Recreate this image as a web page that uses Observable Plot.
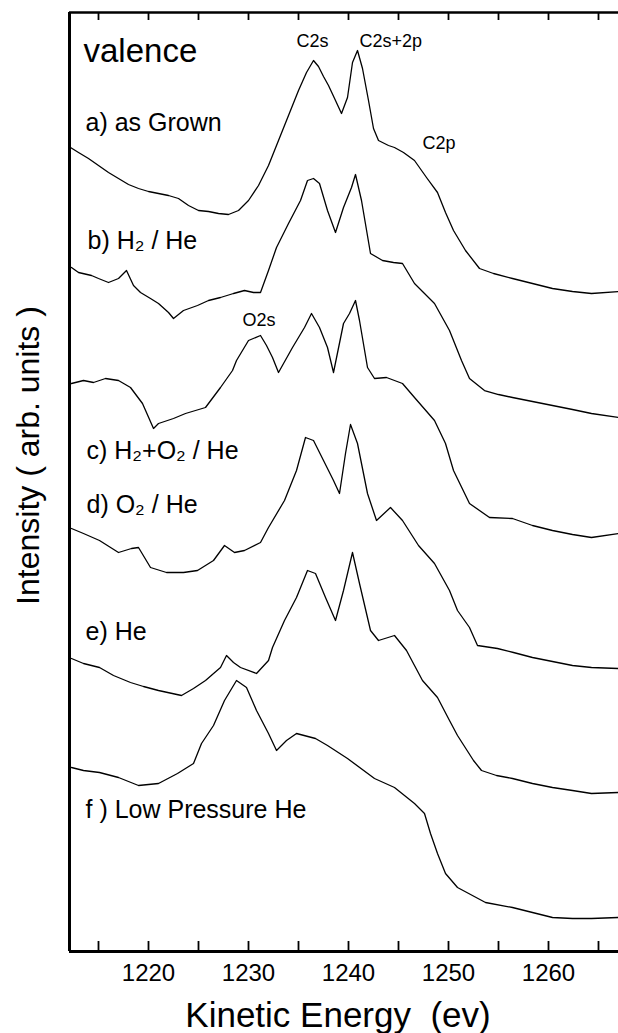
<!DOCTYPE html>
<html><head><meta charset="utf-8">
<script src="https://cdn.jsdelivr.net/npm/d3@7"></script>
<script src="https://cdn.jsdelivr.net/npm/@observablehq/plot@0.6"></script>
<style>html,body{margin:0;padding:0;background:#fff} svg{display:block}</style>
</head><body><div id="chart"></div>
<script>
// Kinetic energy (eV) vs intensity (arb. units)
const seriesA = [[1212.2,80.4],[1213,79.9],[1214,79.3],[1215,78.6],[1216,77.9],[1217,77.3],[1218,76.7],[1219,76.3],[1220,76.0],[1221,75.8],[1222,75.6],[1223,75.3],[1224,74.6],[1225,74.1],[1226,74.0],[1227,73.8],[1228,73.7],[1229,74.1],[1230,75.1],[1231,76.6],[1232,78.6],[1233,81.1],[1234,83.6],[1235,86.1],[1235.8,87.9],[1236.5,89.1],[1237,88.5],[1237.5,87.5],[1238,86.6],[1238.7,85.1],[1239.3,83.8],[1239.9,85.4],[1240.4,88.9],[1240.9,90.1],[1241.4,88.3],[1242,85.1],[1242.5,82.3],[1243,81.1],[1244,80.6],[1244.6,80.4],[1245.5,79.9],[1246.6,79.1],[1247.8,77.4],[1248.9,75.9],[1249.7,73.9],[1250.5,72.1],[1251.7,70.1],[1253.1,68.3],[1254.5,67.8],[1256.4,67.3],[1258.4,66.8],[1260.4,66.3],[1262.4,66.0],[1264.3,65.8],[1267,66.0]];
const seriesB = [[1212.3,68.4],[1213,67.9],[1214.3,67.6],[1215,67.3],[1216,66.9],[1217,67.3],[1217.8,68.1],[1218.5,66.6],[1219.2,65.9],[1220.2,65.3],[1221,64.8],[1222,63.9],[1222.5,63.3],[1223.5,64.1],[1224.9,64.6],[1226,65.1],[1227.2,65.4],[1228.5,65.8],[1229.6,66.1],[1230.5,65.9],[1231.2,65.9],[1232,68.1],[1232.8,70.4],[1234,72.8],[1235.2,75.1],[1235.9,77.1],[1236.5,77.3],[1237.1,76.8],[1237.9,74.1],[1238.7,71.9],[1239.5,74.4],[1240.3,76.4],[1240.7,77.7],[1241.3,75.1],[1242.2,69.8],[1243.4,69.1],[1244.5,68.9],[1245.4,68.8],[1246.6,66.8],[1247.6,65.8],[1248.6,64.8],[1250.1,62.1],[1251.3,59.1],[1252.1,57.3],[1253.6,56.1],[1255,55.7],[1256.4,55.4],[1258.4,55.0],[1260.4,54.6],[1262.4,54.2],[1264.3,53.8],[1267,53.4]];
const seriesC = [[1212.3,56.8],[1213.5,57.1],[1214.5,56.9],[1215.7,57.3],[1217,57.1],[1218.2,56.4],[1219.4,54.8],[1220.5,52.3],[1221,52.8],[1222.5,53.3],[1223.7,53.8],[1225.7,54.4],[1227.2,56.4],[1228.4,58.1],[1228.8,59.1],[1230,61.1],[1231.2,61.6],[1231.8,60.6],[1232.4,59.4],[1233,57.9],[1234.4,60.4],[1235.6,62.4],[1236.3,63.8],[1237.1,62.4],[1237.9,60.4],[1238.5,57.9],[1239.5,62.8],[1240.1,63.8],[1240.7,65.1],[1241.1,63.1],[1241.9,58.4],[1242.6,57.3],[1243.8,57.4],[1245.4,56.8],[1246.6,55.4],[1248.6,53.1],[1249.7,50.8],[1250.5,48.1],[1252.1,44.8],[1254.1,43.4],[1256.4,43.3],[1258.4,42.6],[1260.4,42.1],[1262.4,41.7],[1264.3,41.4],[1267,41.8]];
const seriesD = [[1212.3,42.3],[1213.5,41.8],[1215.1,41.1],[1217,39.9],[1218.3,40.3],[1219,40.4],[1220.2,38.4],[1221.8,37.9],[1223.5,37.9],[1224.9,38.1],[1226.5,39.1],[1227.6,40.6],[1228.6,39.9],[1229.6,40.1],[1231.2,40.9],[1232,42.4],[1233.6,45.1],[1234.8,48.1],[1235.7,51.4],[1236.5,51.1],[1237.5,49.1],[1238.5,47.1],[1239.1,45.8],[1239.7,49.8],[1240.2,52.7],[1240.9,50.8],[1241.9,45.8],[1242.8,43.1],[1244.2,44.4],[1245.4,43.1],[1247,40.6],[1248.6,38.8],[1250.1,36.1],[1250.9,34.1],[1252.1,32.4],[1252.9,30.6],[1254.9,30.3],[1256.5,29.9],[1258.4,29.4],[1260.4,29.0],[1262.4,28.6],[1264.3,28.4],[1267,28.3]];
const seriesE = [[1212.3,29.3],[1213.5,28.8],[1215.1,28.4],[1216.5,27.6],[1218.2,26.9],[1219.5,26.5],[1221,26.1],[1223.3,25.6],[1224.5,26.3],[1225.7,27.1],[1227.2,28.4],[1227.8,29.6],[1228.5,28.9],[1229.2,28.4],[1230.8,27.8],[1232,29.1],[1232.4,30.4],[1233.6,33.1],[1234.8,35.4],[1235.9,38.1],[1236.7,37.8],[1237.7,35.4],[1238.7,33.1],[1239.5,36.1],[1240.4,39.9],[1241.1,36.8],[1242.2,32.1],[1243,31.1],[1244.6,31.6],[1245.8,30.1],[1247.4,27.1],[1248.9,25.4],[1250.1,23.1],[1250.9,21.6],[1252.5,19.1],[1253.3,18.1],[1254.8,17.6],[1256.4,17.3],[1258.4,16.8],[1260.4,16.4],[1262.4,16.1],[1264.3,15.8],[1267,15.9]];
const seriesF = [[1212.3,18.4],[1213.5,18.1],[1215.1,17.9],[1217,17.4],[1219,16.6],[1221,16.8],[1222.9,17.8],[1224.5,18.8],[1225.3,20.8],[1226.5,22.6],[1227.6,25.1],[1228.8,27.1],[1229.8,26.4],[1230.8,24.1],[1232,21.8],[1232.8,20.1],[1233.8,21.1],[1234.8,21.8],[1236.7,21.3],[1237.9,20.6],[1239.9,19.3],[1242.6,17.3],[1244.6,16.4],[1246.6,14.8],[1247.6,13.8],[1248.2,11.8],[1248.9,9.8],[1249.7,7.8],[1250.9,6.4],[1253.7,4.9],[1256.4,4.4],[1258.4,3.9],[1260.4,3.4],[1262.4,3.3],[1264.3,3.3],[1267,3.4]];

const tickEnergies = [1215,1220,1225,1230,1235,1240,1245,1250,1255,1260,1265];
const tickLabels = [1220,1230,1240,1250,1260];

const spectrumLabels = [
  {text:"a) as Grown", energy:1213.7, intensity:82.1},
  {text:"b) H\u2082 / He", energy:1213.9, intensity:70.3},
  {text:"c) H\u2082+O\u2082 / He", energy:1213.8, intensity:49.3},
  {text:"d) O\u2082 / He", energy:1213.8, intensity:43.9},
  {text:"e) He", energy:1213.7, intensity:31.2},
  {text:"f ) Low Pressure He", energy:1213.7, intensity:13.4}
];
const peakLabels = [
  {text:"C2s", energy:1234.8, intensity:90.5},
  {text:"C2s+2p", energy:1241.1, intensity:90.5},
  {text:"C2p", energy:1247.4, intensity:80.3},
  {text:"O2s", energy:1229.4, intensity:62.6}
];
const panelTitle = [{text:"valence", energy:1213.5, intensity:89.0}];

const xDomain = [1212.1, 1267];
const yDomain = [0, 93.9];

const rows = [];
[["a",seriesA],["b",seriesB],["c",seriesC],["d",seriesD],["e",seriesE],["f",seriesF]]
  .forEach(([s, arr]) => arr.forEach(([e, i]) => rows.push({series:s, energy:e, intensity:i})));

const W = 618, H = 1033, mL = 69, mT = 12, mB = 82, mR = 0;
const innerH = H - mT - mB;
const font = '"Liberation Sans", Arial, Helvetica, sans-serif';

const chart = Plot.plot({
  width: W, height: H,
  marginLeft: mL, marginRight: mR, marginTop: mT, marginBottom: mB,
  style: {fontFamily: font, background: "white", color: "black"},
  x: {domain: xDomain, axis: null},
  y: {domain: yDomain, axis: null},
  marks: [
    Plot.line(rows, {x: "energy", y: "intensity", z: "series", stroke: "black", strokeWidth: 1.3}),
    Plot.tickX(tickEnergies, {x: d => d, stroke: "black", strokeWidth: 1.8, insetTop: innerH - 10}),
    Plot.tickX(tickEnergies, {x: d => d, stroke: "black", strokeWidth: 1.8, insetBottom: innerH - 8}),
    Plot.ruleY([yDomain[0]], {stroke: "black", strokeWidth: 3}),
    Plot.ruleY([yDomain[1]], {stroke: "black", strokeWidth: 2.5}),
    Plot.ruleX([xDomain[0]], {stroke: "black", strokeWidth: 3}),
    Plot.axisX(tickLabels, {anchor: "bottom", tickSize: 0, tickPadding: 12, fontSize: 24, tickFormat: d => String(d), fill: "black", label: null}),
    Plot.text(panelTitle, {x: "energy", y: "intensity", text: "text", textAnchor: "start", lineAnchor: "bottom", fontSize: 33, fill: "black"}),
    Plot.text(spectrumLabels, {x: "energy", y: "intensity", text: "text", textAnchor: "start", lineAnchor: "bottom", fontSize: 25, fill: "black"}),
    Plot.text(peakLabels, {x: "energy", y: "intensity", text: "text", textAnchor: "start", lineAnchor: "bottom", fontSize: 18, fill: "black"}),
    Plot.text(["Kinetic Energy \u00a0(ev)"], {frameAnchor: "bottom", textAnchor: "middle", lineAnchor: "bottom", dy: 75, dx: -6, fontSize: 35, fill: "black"}),
    Plot.text(["Intensity ( arb. units )"], {frameAnchor: "left", textAnchor: "middle", lineAnchor: "middle", rotate: -90, dx: -41, dy: -26.5, fontSize: 32, fill: "black"})
  ]
});
document.getElementById("chart").appendChild(chart);
</script>
</body></html>
